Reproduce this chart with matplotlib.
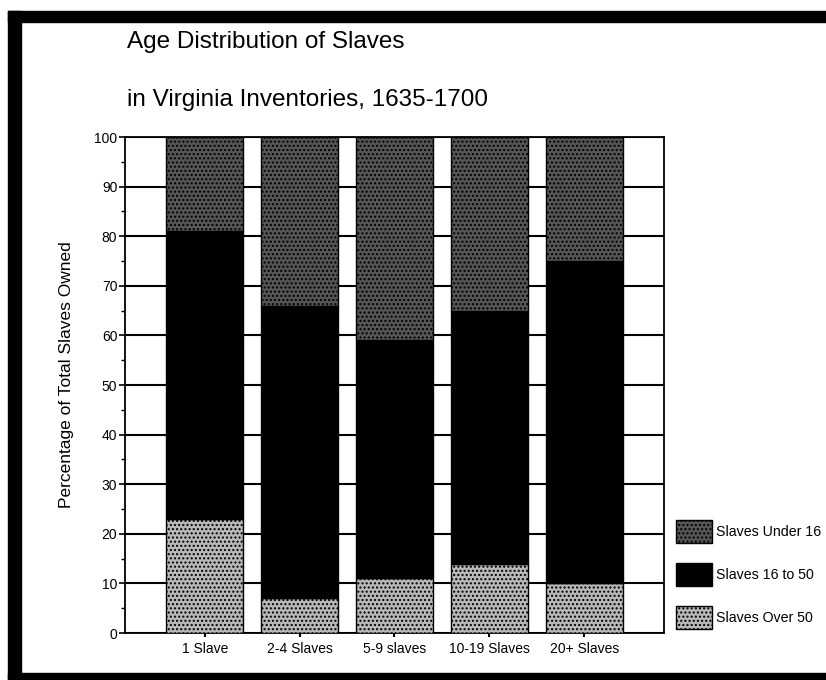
import matplotlib.pyplot as plt
import numpy as np
from matplotlib.patches import Rectangle

plt.rcParams['font.family'] = ['Liberation Sans', 'DejaVu Sans']
plt.rcParams['hatch.color'] = '#8a8a8a'

# Data
categories = ["1 Slave", "2-4 Slaves", "5-9 slaves", "10-19 Slaves", "20+ Slaves"]
over_50 = [23, 7, 11, 14, 10]
age_16_50 = [58, 59, 48, 51, 65]
under_16 = [19, 34, 41, 35, 25]

x = np.arange(len(categories))
fig = plt.figure(figsize=(8.26, 6.8), dpi=100)
ax = fig.add_axes([0.1513, 0.0691, 0.6526, 0.7294])

w = 0.81
b1 = ax.bar(x, over_50, w, color='#b8b8b8', edgecolor='black', linewidth=1,
            hatch='....', label='Slaves Over 50', zorder=3)
b2 = ax.bar(x, age_16_50, w, bottom=over_50, color='black', edgecolor='black',
            linewidth=1, label='Slaves 16 to 50', zorder=3)
bottom2 = np.array(over_50) + np.array(age_16_50)
b3 = ax.bar(x, under_16, w, bottom=bottom2, color='#555555', edgecolor='black',
            linewidth=1, hatch='....', label='Slaves Under 16', zorder=3)

ax.set_xlim(-0.84, 4.84)
ax.set_ylim(0, 100)
ax.set_yticks(range(0, 101, 10))
ax.set_yticks(range(5, 100, 10), minor=True)
ax.yaxis.grid(True, color='black', linewidth=1.5, zorder=0)
ax.set_axisbelow(True)
ax.set_xticks(x)
ax.set_xticklabels(categories, fontsize=10)
ax.tick_params(axis='y', labelsize=10, length=4, width=1.2, direction='out', pad=1.5)
ax.tick_params(axis='y', which='minor', length=3, width=1)
ax.tick_params(axis='x', length=3, width=1.5)
for s in ax.spines.values():
    s.set_linewidth(1.3)

ax.set_ylabel("Percentage of Total Slaves Owned", fontsize=12.5)
ax.yaxis.set_label_coords(-0.095, 0.52)

# Title
fig.text(127 / 826, 1 - 42 / 680, "Age Distribution of Slaves", fontsize=17.5,
         va='center', ha='left')
fig.text(127 / 826, 1 - 100 / 680, "in Virginia Inventories, 1635-1700", fontsize=17.5,
         va='center', ha='left')

# Legend
ax.legend([b3, b2, b1], ['Slaves Under 16', 'Slaves 16 to 50', 'Slaves Over 50'],
          loc='lower left', bbox_to_anchor=(1.011, -0.004), frameon=False,
          fontsize=10.2, handlelength=2.54, handleheight=2.15, labelspacing=1.4,
          handletextpad=0.3, borderaxespad=0)

# Black frame
fig.patches.append(Rectangle((8 / 826, 0), 13 / 826, 1 - 11 / 680, transform=fig.transFigure,
                             color='black', zorder=10))
fig.patches.append(Rectangle((8 / 826, 1 - 22 / 680), 1, 11 / 680, transform=fig.transFigure,
                             color='black', zorder=10))
fig.patches.append(Rectangle((8 / 826, 0), 1, 7 / 680, transform=fig.transFigure,
                             color='black', zorder=10))

fig.savefig("out.png", dpi=100)
